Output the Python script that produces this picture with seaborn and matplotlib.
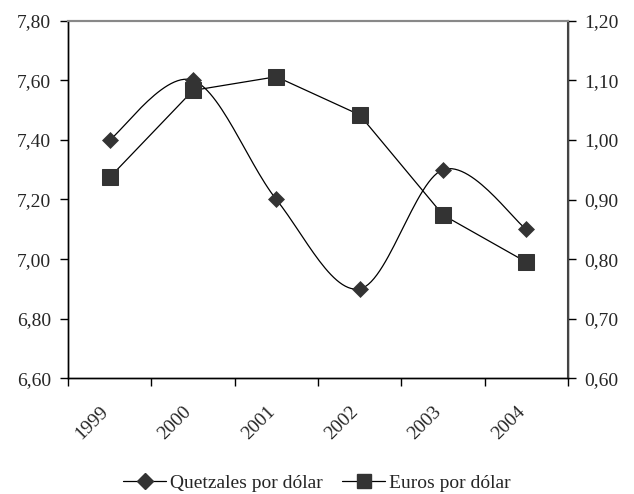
import numpy as np
import pandas as pd
import matplotlib
matplotlib.use("Agg")
import matplotlib.pyplot as plt
from matplotlib.lines import Line2D
from matplotlib.ticker import FuncFormatter, FixedLocator
from matplotlib.transforms import ScaledTranslation
import seaborn as sns

# ==============================
# Datos
# ==============================
anios = ["1999", "2000", "2001", "2002", "2003", "2004"]
quetzales = [7.40, 7.60, 7.20, 6.90, 7.30, 7.10]
euros = [0.937, 1.083, 1.106, 1.042, 0.874, 0.795]

df = pd.DataFrame({"x": np.arange(len(anios)), "anio": anios,
                   "quetzales": quetzales, "euros": euros})


# Curva suavizada tipo Excel (Catmull-Rom) entre los puntos
def suavizar(xs, ys, n=30):
    px = np.concatenate([[xs[0]], xs, [xs[-1]]])
    py = np.concatenate([[ys[0]], ys, [ys[-1]]])
    out_x, out_y = [], []
    t = np.linspace(0, 1, n)
    for i in range(1, len(px) - 2):
        p0, p1, p2, p3 = [np.array([px[j], py[j]]) for j in range(i - 1, i + 3)]
        c1 = p1 + (p2 - p0) / 6
        c2 = p2 - (p3 - p1) / 6
        pts = ((1 - t) ** 3)[:, None] * p1 + (3 * (1 - t) ** 2 * t)[:, None] * c1 \
            + (3 * (1 - t) * t ** 2)[:, None] * c2 + (t ** 3)[:, None] * p2
        out_x.extend(pts[:, 0])
        out_y.extend(pts[:, 1])
    return np.array(out_x), np.array(out_y)


sns.set_style("white")
plt.rcParams["font.family"] = ["Liberation Serif", "DejaVu Serif"]
plt.rcParams["font.size"] = 14

fig = plt.figure(figsize=(6.34, 4.94), dpi=100)
ax = fig.add_axes([68 / 634, 1 - 378.3 / 494, 500 / 634, 357.6 / 494])
ax2 = ax.twinx()

gris = "#333333"

# Quetzales: linea suavizada + rombos
sx, sy = suavizar(df["x"].values.astype(float), df["quetzales"].values)
curva = pd.DataFrame({"x": sx, "y": sy})
sns.lineplot(data=curva, x="x", y="y", sort=False, ax=ax, color="black",
             linewidth=0.9, estimator=None)
sns.scatterplot(data=df, x="x", y="quetzales", ax=ax, marker="D", s=75,
                color=gris, edgecolor=gris, linewidth=0, zorder=3)

# Euros: linea recta + cuadrados
sns.lineplot(data=df, x="x", y="euros", ax=ax2, color="black", linewidth=0.9,
             marker="s", markersize=11, markerfacecolor=gris,
             markeredgecolor=gris)

ax.set_xlim(-0.5, len(anios) - 0.5)
ax.set_ylim(6.60, 7.80)
ax2.set_ylim(0.60, 1.20)
ax.set_yticks(np.arange(6.60, 7.81, 0.20))
ax2.set_yticks(np.arange(0.60, 1.201, 0.10))
coma = FuncFormatter(lambda v, p: f"{v:.2f}".replace(".", ","))
ax.yaxis.set_major_formatter(coma)
ax2.yaxis.set_major_formatter(coma)

ax.set_xticks(df["x"])
ax.xaxis.set_minor_locator(FixedLocator(np.arange(-0.5, len(anios), 1.0)))
ax.tick_params(axis="x", which="major", length=0, pad=18)
ax.tick_params(axis="x", which="minor", length=6, width=1, direction="out",
               bottom=True, color="black")
ax.tick_params(axis="y", length=6, width=1, direction="out", left=True,
               color="black", pad=6)
ax2.tick_params(axis="y", length=6, width=1, direction="out", right=True,
                color="black", pad=6)

ax.set_xticklabels(anios, rotation=45, ha="right", va="top",
                   rotation_mode="anchor")
desplaza = ScaledTranslation(-10 / 100, 0, fig.dpi_scale_trans)
for etiqueta in ax.get_xticklabels():
    etiqueta.set_transform(etiqueta.get_transform() + desplaza)

ax.set_xlabel("")
ax.set_ylabel("")
ax2.set_ylabel("")

for a in (ax, ax2):
    for lado in ["left", "right", "bottom"]:
        a.spines[lado].set_color("black")
        a.spines[lado].set_linewidth(1)
    a.spines["top"].set_color("#888888")
    a.spines["top"].set_linewidth(1.5)
ax2.spines["right"].set_color("#444444")
ax2.spines["right"].set_linewidth(1.5)

h1 = Line2D([], [], color="black", linewidth=0.9, marker="D", markersize=8,
            markerfacecolor=gris, markeredgecolor=gris)
h2 = Line2D([], [], color="black", linewidth=0.9, marker="s", markersize=10,
            markerfacecolor=gris, markeredgecolor=gris)
fig.legend([h1, h2], ["Quetzales por dólar", "Euros por dólar"],
           loc="center", bbox_to_anchor=(0.5, 1 - 483 / 494), ncol=2,
           frameon=False, handlelength=2.2, handletextpad=0.2,
           columnspacing=1.0, fontsize=14)

plt.savefig("out.png", dpi=100)
